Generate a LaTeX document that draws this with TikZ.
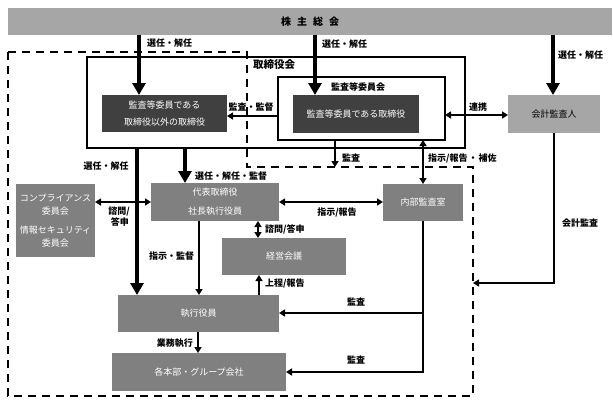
\documentclass[tikz,border=0pt]{standalone}
\usepackage{fontspec}
\setmainfont{Noto Sans CJK JP}
\usetikzlibrary{arrows.meta}
\definecolor{lg}{HTML}{A6A6A6}
\definecolor{mg}{HTML}{808080}
\definecolor{dg}{HTML}{404040}
\begin{document}
\begin{tikzpicture}[x=1pt,y=-1pt,
  box/.style={anchor=north west,inner sep=0pt,outer sep=0pt,draw=none,text=white,align=center,font=\fontsize{9}{17}\selectfont},
  frame/.style={anchor=north west,inner sep=0pt,outer sep=0pt,draw=black,line width=1.5pt},
  lab/.style={inner sep=0pt,font=\fontsize{9}{11}\selectfont\bfseries},
  bigarr/.style={line width=4pt,-{Triangle[width=13pt,length=12pt]}},
  arr/.style={line width=1.5pt,-{Triangle[width=7pt,length=6pt]}},
  darr/.style={line width=1.5pt,{Triangle[width=7pt,length=6pt]}-{Triangle[width=7pt,length=6pt]}},
  dashline/.style={line width=1.8pt,dash pattern=on 8pt off 6pt}
]
\useasboundingbox (0,0) rectangle (613,407);
% frames
\node[frame,minimum width=378pt,minimum height=91pt] (tor) at (87,57) {};
\node[frame,minimum width=167pt,minimum height=63pt] (kan) at (278,77) {};
% dashed region
\draw[dashline] (8,52) -- (247,52) -- (247,167) -- (473,167) -- (473,396) -- (8,396) -- cycle;
% boxes
\node[box,fill=lg,text=black,minimum width=604pt,minimum height=27pt,font=\fontsize{10}{12}\selectfont\bfseries] (bar) at (8,8) {株\hspace{6pt}主\hspace{6pt}総\hspace{6pt}会};
\node[box,fill=dg,minimum width=125pt,minimum height=37pt] (d1) at (102,95) {監査等委員である\\取締役以外の取締役};
\node[box,fill=dg,minimum width=126pt,minimum height=38pt] (d2) at (293,95) {監査等委員である取締役};
\node[box,fill=lg,text=black,minimum width=92pt,minimum height=38pt] (acc) at (508,95) {会計監査人};
\node[box,fill=mg,minimum width=79pt,minimum height=73pt,font=\fontsize{9}{13.5}\selectfont] (comp) at (16,184) {コンプライアンス\\委員会\\[5pt]情報セキュリティ\\委員会};
\node[box,fill=mg,minimum width=128pt,minimum height=38pt,font=\fontsize{9}{19}\selectfont] (ceo) at (151,183) {代表取締役\\社長執行役員};
\node[box,fill=mg,minimum width=80pt,minimum height=37pt] (ia) at (383,184) {内部監査室};
\node[box,fill=mg,minimum width=124pt,minimum height=37pt] (mgmt) at (222,238) {経営会議};
\node[box,fill=mg,minimum width=161pt,minimum height=37pt] (exec) at (118,295) {執行役員};
\node[box,fill=mg,minimum width=174pt,minimum height=38pt] (grp) at (112,353) {各本部・グループ会社};
% coordinates
\coordinate (dtop) at (335,167);
\coordinate (dright) at (473,283);
% big arrows
\draw[bigarr] (bar.south -| 139,0) -- (d1.north -| 139,0);
\draw[bigarr] (bar.south -| 315,0) -- (d2.north -| 315,0);
\draw[bigarr] (bar.south -| 553,0) -- (acc.north -| 553,0);
\draw[bigarr] (tor.south -| 137,0) -- (exec.north -| 137,0);
\draw[bigarr] (tor.south -| 185,0) -- (ceo.north -| 185,0);
% normal arrows
\draw[arr] (kan.west |- 0,116) -- (d1.east |- 0,116);
\draw[darr] (kan.east |- 0,115) -- (acc.west |- 0,115);
\draw[arr] (kan.south -| dtop) -- (dtop);
\draw[darr] (kan.south -| ia.north) -- (ia.north);
\draw[darr] (comp.east |- 0,202) -- (ceo.west |- 0,202);
\draw[darr] (ceo.east |- 0,202) -- (ia.west |- 0,202);
\draw[darr] (ceo.south -| 258,0) -- (mgmt.north -| 258,0);
\draw[arr] (ceo.south -| 199,0) -- (exec.north -| 199,0);
\draw[arr] (exec.north -| 259,0) -- (mgmt.south -| 259,0);
\draw[arr] (exec.south -| 198,0) -- (grp.north -| 198,0);
\draw[arr] (ia.south) -- (ia.south |- 0,372) -- (grp.east |- 0,372);
\draw[arr] (ia.south |- 0,313) -- (exec.east |- 0,313);
\draw[arr] (acc.south) -- (acc.south |- dright) -- (dright);
% labels
\node[lab,anchor=west] (l1) at (147,43) {選任・解任};
\node[lab,anchor=west] (l2) at (322,44) {選任・解任};
\node[lab,anchor=west] (l3) at (558,55) {選任・解任};
\node[lab,anchor=west,font=\fontsize{10.5}{12}\selectfont\bfseries] (l4) at (253,65) {取締役会};
\node[lab,anchor=west] (l5) at (331,87) {監査等委員会};
\node[lab] (l6) at (251,107) {監査・監督};
\node[lab] (l7) at (478,107) {連携};
\node[lab] (l8) at (106,166) {選任・解任};
\node[lab,anchor=west] (l9) at (195,176) {選任・解任・監督};
\node[lab,anchor=east] (l10) at (130,211) {諮問/};
\node[lab,anchor=east] (l11) at (129,222) {答申};
\node[lab,anchor=west] (l12) at (265,229) {諮問/答申};
\node[lab] (l13) at (337,212) {指示/報告};
\node[lab,anchor=west] (l14) at (342,158) {監査};
\node[lab,anchor=west] (l15) at (428,158) {指示/報告\hspace{1pt}・\hspace{1pt}補佐};
\node[lab,anchor=west] (l16) at (562,223) {会計監査};
\node[lab,anchor=west] (l17) at (149,256) {指示・監督};
\node[lab,anchor=west] (l18) at (265,283) {上程/報告};
\node[lab] (l19) at (356,302) {監査};
\node[lab] (l20) at (356,360) {監査};
\node[lab,anchor=east] (l21) at (193,343) {業務執行};
\end{tikzpicture}
\end{document}
